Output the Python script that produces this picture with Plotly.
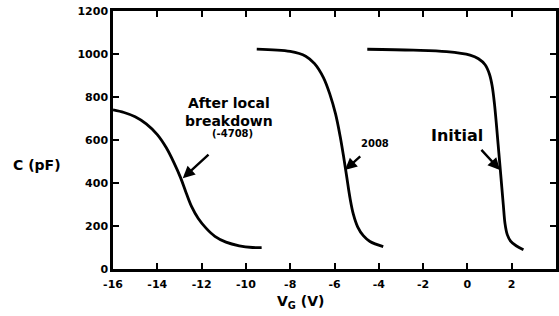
import plotly.graph_objects as go

# Curve data (V_G in volts, C in pF)
v_after = [-16.0, -15.5, -15.0, -14.5, -14.0, -13.6, -13.25, -12.95, -12.7, -12.45, -12.15, -11.8, -11.4, -10.9, -10.3, -9.7, -9.29]
c_after = [740, 728, 708, 675, 625, 565, 495, 425, 355, 290, 235, 190, 152, 125, 108, 100, 99]

v_2008 = [-9.51, -8.0, -7.3, -6.9, -6.5, -6.2, -5.95, -5.75, -5.6, -5.45, -5.3, -5.15, -4.95, -4.7, -4.4, -3.8]
c_2008 = [1023, 1012, 990, 955, 890, 810, 720, 620, 530, 430, 330, 255, 195, 155, 128, 104]

v_init = [-4.52, -2.44, -0.94, 0.12, 0.5, 0.8, 1.0, 1.12, 1.22, 1.32, 1.42, 1.52, 1.62, 1.70, 1.80, 1.95, 2.2, 2.53]
c_init = [1022, 1018, 1011, 995, 978, 950, 905, 850, 770, 660, 540, 420, 300, 210, 160, 130, 108, 90]

x_ticks = [-16, -14, -12, -10, -8, -6, -4, -2, 0, 2, 4]
y_ticks = [0, 200, 400, 600, 800, 1000, 1200]

FONT = "DejaVu Sans"
W, H = 559, 316
ML, MR, MT, MB = 113, 3, 11, 47

fig = go.Figure()
for vx, cy in [(v_after, c_after), (v_2008, c_2008), (v_init, c_init)]:
    fig.add_trace(go.Scatter(x=vx, y=cy, mode="lines",
                             line=dict(color="black", width=2.8, shape="spline", smoothing=1.0),
                             showlegend=False, hoverinfo="skip"))

# Arrows (tail -> tip)
arrows = [
    (-11.62, 538, -12.85, 422),
    (-4.77, 530, -5.53, 460),
    (0.57, 561, 1.47, 460),
]
for tx, ty, hx, hy in arrows:
    fig.add_annotation(x=hx, y=hy, ax=tx, ay=ty, xref="x", yref="y", axref="x", ayref="y",
                       text="", showarrow=True, arrowhead=2, arrowsize=1.0, arrowwidth=2.4,
                       arrowcolor="black")

labels = [
    (-10.76, 730, "After local<br>breakdown", 14),
    (-10.6, 628, "(-4708)", 10),
    (-4.15, 586, "2008", 10),
    (-0.45, 619, "Initial", 16),
]
for lx, ly, txt, sz in labels:
    fig.add_annotation(x=lx, y=ly, xref="x", yref="y", text=txt, showarrow=False,
                       font=dict(family=FONT, size=sz, color="black", weight="bold"))

pw = W - ML - MR
ph = H - MT - MB


def px2paper(px, py):
    return (px - ML) / pw, (H - MB - py) / ph


cx, cy_ = px2paper(37, 165)
fig.add_annotation(x=cx, y=cy_, xref="paper", yref="paper", text="C (pF)", showarrow=False,
                   xanchor="center", yanchor="middle",
                   font=dict(family=FONT, size=14, color="black", weight="bold"))
tx_, ty_ = px2paper(300, 302)
fig.add_annotation(x=tx_, y=ty_, xref="paper", yref="paper", text="V<sub>G</sub> (V)", showarrow=False,
                   xanchor="center", yanchor="middle",
                   font=dict(family=FONT, size=14, color="black", weight="bold"))

axis_common = dict(showline=True, linecolor="black", linewidth=2.5, mirror="ticks",
                   ticks="inside", ticklen=6, tickwidth=2, tickcolor="black",
                   showgrid=False, zeroline=False, automargin=False,
                   tickfont=dict(family=FONT, size=11, color="black", weight="bold"))

fig.update_xaxes(range=[-16, 4], tickvals=x_ticks, ticktext=[str(t) for t in x_ticks],
                 ticklabelstandoff=3, **axis_common)
fig.update_yaxes(range=[0, 1200], tickvals=y_ticks, ticktext=[str(t) for t in y_ticks], **axis_common)

fig.update_layout(width=W, height=H, margin=dict(l=ML, r=MR, t=MT, b=MB),
                  plot_bgcolor="white", paper_bgcolor="white")

fig.write_html("out.html", config={"displayModeBar": False},
               post_script="document.body.style.margin='0';document.body.style.overflow='hidden';")
